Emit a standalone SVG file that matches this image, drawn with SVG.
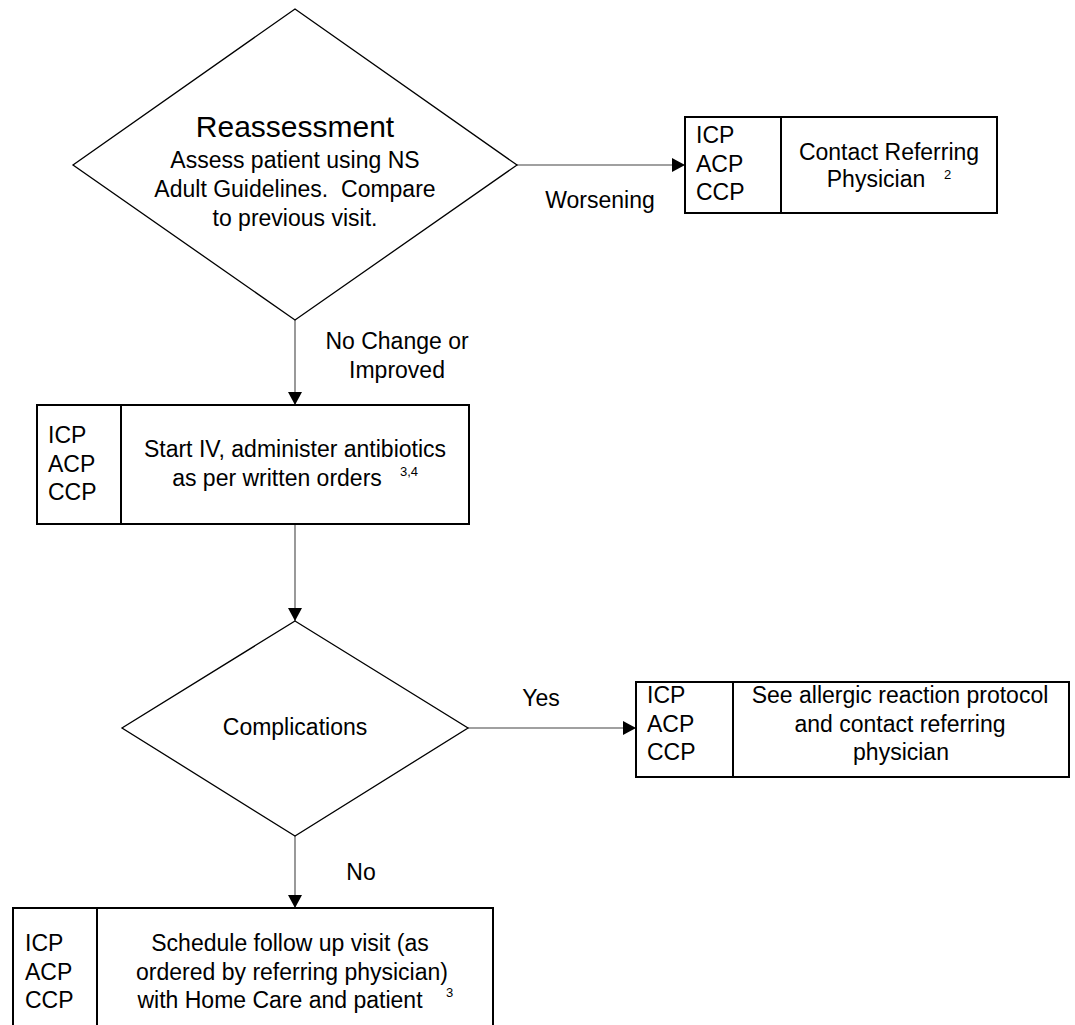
<svg xmlns="http://www.w3.org/2000/svg" width="1075" height="1025" viewBox="0 0 1075 1025">
<style>
text{font-family:"Liberation Sans",Arial,sans-serif;font-size:23px;fill:#000}
.c{text-anchor:middle}
.t{font-size:30px}
.s{font-size:13px}
.dia{fill:#fff;stroke:#000;stroke-width:1.3}
.box{fill:#fff;stroke:#000;stroke-width:2}
.conn{stroke:#808080;stroke-width:1.6;fill:none}
</style>
<defs>
<marker id="ah" markerUnits="userSpaceOnUse" markerWidth="14" markerHeight="14" refX="13" refY="7" orient="auto">
<path d="M0,0 L13,7 L0,14 z" fill="#000"/>
</marker>
</defs>
<rect width="1075" height="1025" fill="#fff"/>
<g id="connectors">
<line class="conn" x1="517" y1="165" x2="685" y2="165" marker-end="url(#ah)"/>
<line class="conn" x1="295" y1="320" x2="295" y2="405" marker-end="url(#ah)"/>
<line class="conn" x1="295" y1="524" x2="295" y2="621" marker-end="url(#ah)"/>
<line class="conn" x1="468" y1="728" x2="636" y2="728" marker-end="url(#ah)"/>
<line class="conn" x1="295" y1="836" x2="295" y2="908" marker-end="url(#ah)"/>
<text class="c" x="600" y="208">Worsening</text>
<text class="c" x="397" y="349">No Change or</text>
<text class="c" x="397" y="378">Improved</text>
<text class="c" x="541" y="706">Yes</text>
<text class="c" x="361" y="880">No</text>
</g>
<g id="reassessment">
<polygon class="dia" points="295,9 517,165 295,320 73,165"/>
<text class="c t" x="295" y="137">Reassessment</text>
<text class="c" x="295" y="168">Assess patient using NS</text>
<text class="c" x="295" y="197">Adult Guidelines.&#160; Compare</text>
<text class="c" x="295" y="226">to previous visit.</text>
</g>
<g id="contact-referring">
<rect class="box" x="685" y="117" width="312" height="96"/>
<line class="box" x1="781" y1="117" x2="781" y2="213"/>
<text x="696" y="143">ICP</text>
<text x="696" y="172">ACP</text>
<text x="696" y="200">CCP</text>
<text class="c" x="889" y="160">Contact Referring</text>
<text class="c" x="876" y="187">Physician</text>
<text class="s" x="944" y="179">2</text>
</g>
<g id="start-iv">
<rect class="box" x="37" y="405" width="432" height="119"/>
<line class="box" x1="121" y1="405" x2="121" y2="524"/>
<text x="48" y="443">ICP</text>
<text x="48" y="472">ACP</text>
<text x="48" y="500">CCP</text>
<text class="c" x="295" y="457">Start IV, administer antibiotics</text>
<text class="c" x="277" y="486">as per written orders</text>
<text class="s" x="400" y="476">3,4</text>
</g>
<g id="complications">
<polygon class="dia" points="295,621 468,728 295,836 122,728"/>
<text class="c" x="295" y="735">Complications</text>
</g>
<g id="allergic-reaction">
<rect class="box" x="636" y="682" width="433" height="95"/>
<line class="box" x1="733" y1="682" x2="733" y2="777"/>
<text x="647" y="703">ICP</text>
<text x="647" y="732">ACP</text>
<text x="647" y="760">CCP</text>
<text class="c" x="900" y="703">See allergic reaction protocol</text>
<text class="c" x="900" y="732">and contact referring</text>
<text class="c" x="901" y="760">physician</text>
</g>
<g id="follow-up">
<rect class="box" x="13" y="908" width="480" height="140"/>
<line class="box" x1="97" y1="908" x2="97" y2="1048"/>
<text x="25" y="951">ICP</text>
<text x="25" y="980">ACP</text>
<text x="25" y="1008">CCP</text>
<text class="c" x="290" y="951">Schedule follow up visit (as</text>
<text class="c" x="292" y="980">ordered by referring physician)</text>
<text class="c" x="280" y="1008">with Home Care and patient</text>
<text class="s" x="446" y="997">3</text>
</g>
</svg>
